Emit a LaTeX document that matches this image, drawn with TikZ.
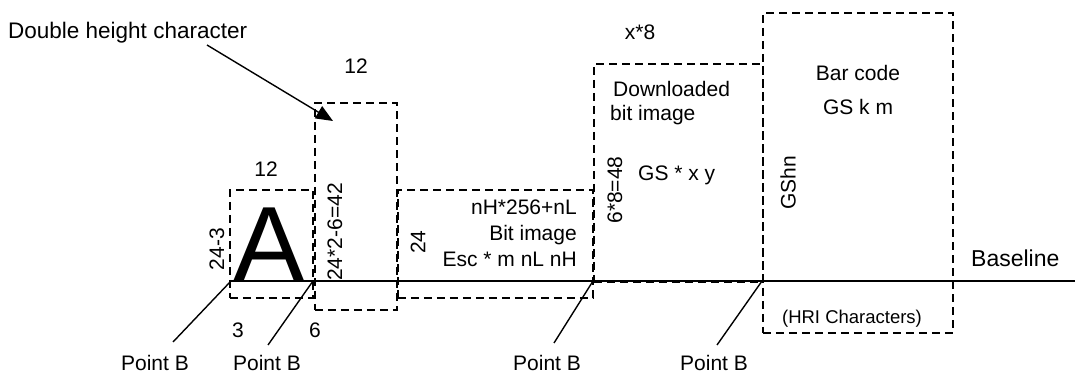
\documentclass[tikz,border=0pt]{standalone}
\usepackage{fontspec}
\setmainfont{Liberation Sans}
\usetikzlibrary{arrows.meta}
\newcommand{\fsz}[1]{\fontsize{#1}{#1}\selectfont}
\begin{document}
\begin{tikzpicture}[x=1pt,y=-1pt,
  dbox/.style={draw, dash pattern=on 8pt off 5pt, line width=1.8pt, inner sep=0, anchor=north west},
  lbl/.style={font=\fsz{21}, inner sep=0},
  solidline/.style={line width=1.8pt},
  thinline/.style={line width=1.4pt}]
\useasboundingbox (0,0) rectangle (1075,374);
% boxes
\node[dbox, minimum width=83pt, minimum height=108pt] (boxA) at (229,189) {};
\node[dbox, minimum width=82pt, minimum height=207pt] (boxD) at (314,102) {};
\node[dbox, minimum width=195pt, minimum height=108pt] (boxI) at (397,189) {};
\node[dbox, minimum width=169pt, minimum height=218pt] (boxG) at (593,63) {};
\node[dbox, minimum width=190pt, minimum height=320pt] (boxB) at (762,12) {};
% baseline
\coordinate (p1) at (231,281);
\coordinate (p2) at (313,281);
\coordinate (p3) at (593,281);
\coordinate (p4) at (762,281);
\coordinate (bend) at (1075,281);
\draw[solidline] (p1) -- (bend);
% big A
\node[inner sep=0, anchor=base, font=\fsz{107}] (bigA) at (269,281) {A};
% labels
\node[lbl, font=\fsz{22.5}, anchor=base west] (dhc) at (8,39) {Double height character};
\coordinate (arrtail) at (207,45);
\coordinate (arrtip) at (333,121);
\draw[thinline, -{Triangle[length=17pt,width=14pt]}] (arrtail) -- (arrtip);
\node[lbl, anchor=base] (w12a) at (266,177) {12};
\node[lbl, anchor=base] (w12b) at (356,74) {12};
\node[lbl, rotate=90] (h243) at (217,249) {24-3};
\node[lbl, rotate=90] (h42) at (335,232) {24*2-6=42};
\node[lbl, rotate=90] (h24) at (418,242) {24};
\node[lbl, anchor=base east] (bi1) at (577,214.5) {nH*256+nL};
\node[lbl, anchor=base east] (bi2) at (577,240.5) {Bit image};
\node[lbl, anchor=base east] (bi3) at (577,266.5) {Esc * m nL nH};
\node[lbl, anchor=base] (x8) at (640,39.5) {x*8};
\node[lbl, anchor=base west] (dl1) at (613,96.5) {Downloaded};
\node[lbl, anchor=base west] (dl2) at (610,120.5) {bit image};
\node[lbl, rotate=90] (h48) at (615,190) {6*8=48};
\node[lbl, anchor=base west] (gsxy) at (638,180.5) {GS * x y};
\node[lbl, anchor=base] (bc1) at (858,80.5) {Bar code};
\node[lbl, anchor=base] (bc2) at (858,114.5) {GS k m};
\node[lbl, rotate=90] (gshn) at (788,183) {GShn};
\node[lbl, font=\fsz{18.5}, anchor=base] (hri) at (852,323.6) {(HRI Characters)};
\node[lbl, font=\fsz{23}, anchor=base west] (bl) at (971,266) {Baseline};
\node[lbl, anchor=base] (n3) at (238,337.5) {3};
\node[lbl, anchor=base] (n6) at (315,337.5) {6};
% Point B labels
\node[lbl, anchor=base] (pb1) at (155,370.5) {Point B};
\node[lbl, anchor=base] (pb2) at (267,370.5) {Point B};
\node[lbl, anchor=base] (pb3) at (547,370.5) {Point B};
\node[lbl, anchor=base] (pb4) at (714,370.5) {Point B};
\coordinate (e1) at (173,342);
\coordinate (e2) at (268,345);
\coordinate (e3) at (554,343);
\coordinate (e4) at (717,345);
\draw[thinline] (p1) -- (e1);
\draw[thinline] (p2) -- (e2);
\draw[thinline] (p3) -- (e3);
\draw[thinline] (p4) -- (e4);
\end{tikzpicture}
\end{document}
